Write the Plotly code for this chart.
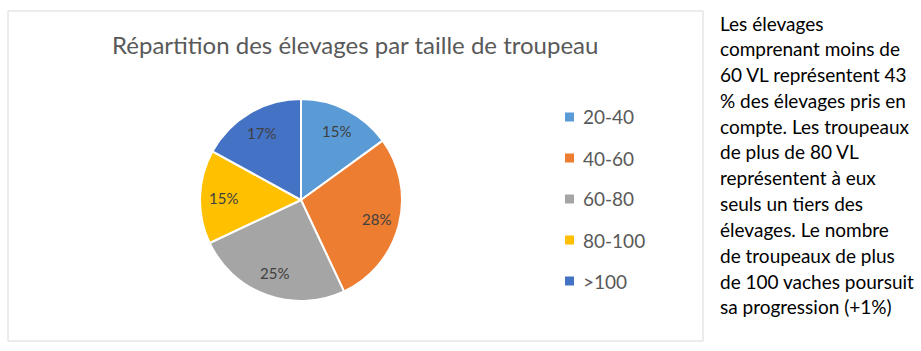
import math
import plotly.graph_objects as go

W, H = 921, 351

categories = ["20-40", "40-60", "60-80", "80-100", ">100"]
values = [15, 28, 25, 15, 17]
colors = ["#5B9BD5", "#ED7D31", "#A5A5A5", "#FFC000", "#4472C4"]
title_text = "Répartition des élevages par taille de troupeau"
side_lines = [
    "Les élevages",
    "comprenant moins de",
    "60 VL représentent 43",
    "% des élevages pris en",
    "compte. Les troupeaux",
    "de plus de 80 VL",
    "représentent à eux",
    "seuls un tiers des",
    "élevages. Le nombre",
    "de troupeaux de plus",
    "de 100 vaches poursuit",
    "sa progression (+1%)",
]

FONT = "Lato"

def px(x):
    return x / W

def py(y):
    return 1 - y / H

cx, cy, r = 301, 200, 101

fig = go.Figure()
fig.add_trace(go.Pie(
    labels=categories,
    values=values,
    sort=False,
    direction="clockwise",
    rotation=0,
    marker=dict(colors=colors, line=dict(color="white", width=2)),
    textinfo="none",
    hoverinfo="label+percent",
    showlegend=False,
    domain=dict(x=[px(cx - r), px(cx + r)], y=[py(cy + r), py(cy - r)]),
))

shapes = [dict(type="rect", xref="paper", yref="paper",
               x0=px(8), x1=px(703), y0=py(341), y1=py(11),
               line=dict(color="#D9D9D9", width=1), fillcolor="rgba(0,0,0,0)")]
annotations = [dict(text=title_text, x=px(355), y=py(45), xref="paper", yref="paper",
                    showarrow=False, xanchor="center", yanchor="middle",
                    font=dict(family=FONT, size=24, color="#595959"))]

# slice labels placed at slice mid-angles (Excel-style positioning)
total = sum(values)
cum = 0
for v in values:
    mid = (cum + v / 2) / total * 2 * math.pi
    cum += v
    lr = 0.77 * r
    lx = cx + lr * math.sin(mid)
    ly = cy - lr * math.cos(mid)
    annotations.append(dict(text=f"{round(v / total * 100)}%", x=px(lx), y=py(ly),
                            xref="paper", yref="paper", showarrow=False,
                            xanchor="center", yanchor="middle",
                            font=dict(family=FONT, size=15, color="#404040")))

# legend
for i, (lab, col) in enumerate(zip(categories, colors)):
    yc = 117 + i * 41
    shapes.append(dict(type="rect", xref="paper", yref="paper",
                       x0=px(565), x1=px(574), y0=py(yc + 4.5), y1=py(yc - 4.5),
                       line=dict(width=0), fillcolor=col))
    annotations.append(dict(text=lab, x=px(581), y=py(yc), xref="paper", yref="paper",
                            showarrow=False, xanchor="left", yanchor="middle",
                            font=dict(family=FONT, size=19, color="#595959")))

for i, line in enumerate(side_lines):
    yc = 23 + i * 25.8
    annotations.append(dict(text=line, x=px(718), y=py(yc), xref="paper", yref="paper",
                            showarrow=False, xanchor="left", yanchor="middle",
                            font=dict(family=FONT, size=19, color="#000000")))

fig.update_layout(
    width=W, height=H,
    margin=dict(l=0, r=0, t=0, b=0),
    paper_bgcolor="white",
    plot_bgcolor="white",
    shapes=shapes,
    annotations=annotations,
)

fig.write_html("out.html", config={"displayModeBar": False})
